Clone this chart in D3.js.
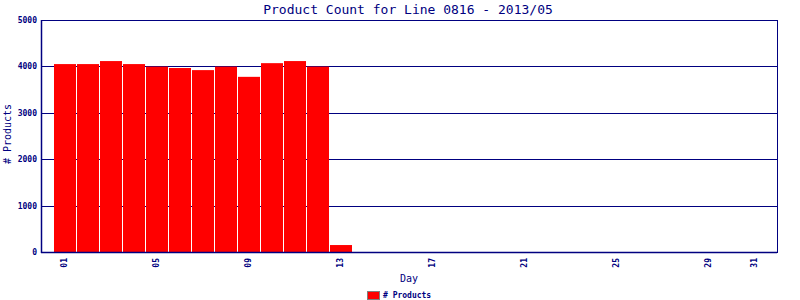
<!DOCTYPE html>
<html>
<head>
<meta charset="utf-8">
<script src="https://cdn.jsdelivr.net/npm/d3@7"></script>
<style>
  body { margin: 0; background: #fff; }
  text { fill: #000080; font-family: "DejaVu Sans Mono", monospace; }
</style>
</head>
<body>
<svg id="chart" width="800" height="300"></svg>
<script>
// Data
const days = d3.range(1, 32);
const products = [4050, 4050, 4115, 4050, 3995, 3965, 3920, 3995, 3775, 4070, 4115, 3995, 150];
const yTicks = [0, 1000, 2000, 3000, 4000, 5000];
const xTickDays = [1, 5, 9, 13, 17, 21, 25, 29, 31];

const svg = d3.select("#chart");
const navy = "#000080";

const margin = {left: 41, right: 23, top: 20, bottom: 48};
const width = 800, height = 300;

// Scales
const x = d3.scaleLinear().domain([0, 32]).range([margin.left, width - margin.right]);
const y = d3.scaleLinear().domain([0, 5000]).range([height - margin.bottom, margin.top]);

// Gridlines
svg.append("g")
    .selectAll("line")
    .data(yTicks.slice(1))
    .enter().append("line")
    .attr("x1", margin.left).attr("x2", width - margin.right)
    .attr("y1", d => Math.round(y(d)) + 0.5).attr("y2", d => Math.round(y(d)) + 0.5)
    .attr("stroke", navy).attr("stroke-width", 1);

// Bars
const step = x(1) - x(0);
svg.append("g")
    .selectAll("rect")
    .data(products)
    .enter().append("rect")
    .attr("x", (d, i) => Math.round(x(i + 1) - step / 2) + 1)
    .attr("width", Math.round(step) - 1)
    .attr("y", d => y(d))
    .attr("height", d => y(0) - y(d))
    .attr("fill", "#ff0000");

// Frame
svg.append("rect")
    .attr("x", margin.left + 0.5).attr("y", margin.top + 0.5)
    .attr("width", width - margin.right - margin.left)
    .attr("height", height - margin.bottom - margin.top)
    .attr("fill", "none").attr("stroke", navy).attr("stroke-width", 1);
svg.append("line")
    .attr("x1", margin.left + 0.5).attr("x2", margin.left + 0.5)
    .attr("y1", margin.top).attr("y2", y(0) + 1)
    .attr("stroke", navy).attr("stroke-width", 1.5);
svg.append("line")
    .attr("x1", margin.left).attr("x2", width - margin.right)
    .attr("y1", y(0) + 0.5).attr("y2", y(0) + 0.5)
    .attr("stroke", navy).attr("stroke-width", 1.5);

// Y axis tick labels
svg.append("g")
    .selectAll("text")
    .data(yTicks)
    .enter().append("text")
    .attr("x", margin.left - 4)
    .attr("y", d => y(d) + 3)
    .attr("text-anchor", "end")
    .style("font-size", "8px")
    .style("font-weight", "bold")
    .text(d => d);

// X axis tick labels (rotated)
svg.append("g")
    .selectAll("text")
    .data(xTickDays)
    .enter().append("text")
    .attr("transform", d => `translate(${x(d) + 3},${y(0) + 6}) rotate(-90)`)
    .attr("text-anchor", "end")
    .style("font-size", "8px")
    .style("font-weight", "bold")
    .text(d => d3.format("02d")(d));

// Title
svg.append("text")
    .attr("x", 408).attr("y", 14)
    .attr("text-anchor", "middle")
    .style("font-size", "13px")
    .text("Product Count for Line 0816 - 2013/05");

// Axis titles
svg.append("text")
    .attr("x", 409).attr("y", 282)
    .attr("text-anchor", "middle")
    .style("font-size", "10px")
    .text("Day");

svg.append("text")
    .attr("transform", `translate(11,134) rotate(-90)`)
    .attr("text-anchor", "middle")
    .style("font-size", "10px")
    .text("# Products");

// Legend
svg.append("rect")
    .attr("x", 367.5).attr("y", 291.5)
    .attr("width", 12).attr("height", 8)
    .attr("fill", "#ff0000").attr("stroke", "#808080");
svg.append("text")
    .attr("x", 383).attr("y", 298)
    .style("font-size", "8px")
    .style("font-weight", "bold")
    .text("# Products");
</script>
</body>
</html>
